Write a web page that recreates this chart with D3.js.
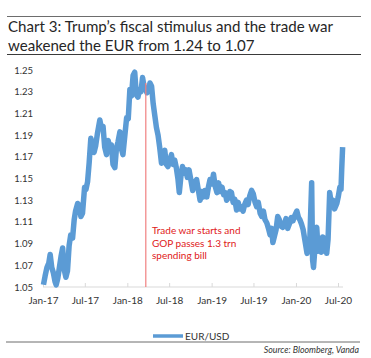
<!DOCTYPE html>
<html><head><meta charset="utf-8">
<script src="https://cdn.jsdelivr.net/npm/d3@7/dist/d3.min.js"></script>
<style>
body{margin:0;background:#fff;}
svg text{font-family:Lato,"Open Sans",sans-serif;}
</style></head>
<body><svg id="c" width="371" height="358"></svg>
<script>
const titleLines = ["Chart 3: Trump\u2019s fiscal stimulus and the trade war","weakened the EUR from 1.24 to 1.07"];
const seriesName = "EUR/USD";
const sourceText = "Source: Bloomberg, Vanda";
const annotationLines = ["Trade war starts and","GOP passes 1.3 trn","spending bill"];
const annotationDate = "2018-03-22";
const annotationTop = 1.238;
const yTicks = [1.05,1.07,1.09,1.11,1.13,1.15,1.17,1.19,1.21,1.23,1.25];
const xTickDates = ["2017-01-01","2017-07-01","2018-01-01","2018-07-01","2019-01-01","2019-07-01","2020-01-01","2020-07-01"];
const xTickLabels = ["Jan-17","Jul-17","Jan-18","Jul-18","Jan-19","Jul-19","Jan-20","Jul-20"];
const dates = ["2017-01-03","2017-01-10","2017-01-18","2017-01-26","2017-02-01","2017-02-08","2017-02-15","2017-02-22","2017-02-27","2017-03-06","2017-03-13","2017-03-20","2017-03-27","2017-04-03","2017-04-10","2017-04-17","2017-04-24","2017-05-01","2017-05-09","2017-05-16","2017-05-22","2017-05-31","2017-06-07","2017-06-14","2017-06-21","2017-06-30","2017-07-06","2017-07-13","2017-07-20","2017-07-27","2017-08-03","2017-08-10","2017-08-17","2017-08-25","2017-09-04","2017-09-11","2017-09-18","2017-09-25","2017-10-03","2017-10-10","2017-10-17","2017-10-24","2017-10-31","2017-11-08","2017-11-15","2017-11-22","2017-11-30","2017-12-07","2017-12-13","2017-12-20","2017-12-29","2018-01-05","2018-01-12","2018-01-19","2018-01-26","2018-02-02","2018-02-09","2018-02-16","2018-02-23","2018-03-01","2018-03-08","2018-03-15","2018-03-22","2018-03-27","2018-04-03","2018-04-09","2018-04-16","2018-04-23","2018-04-30","2018-05-07","2018-05-14","2018-05-21","2018-05-29","2018-06-05","2018-06-12","2018-06-19","2018-06-26","2018-07-03","2018-07-11","2018-07-18","2018-07-25","2018-08-01","2018-08-08","2018-08-14","2018-08-21","2018-08-28","2018-09-04","2018-09-11","2018-09-18","2018-09-25","2018-10-02","2018-10-11","2018-10-18","2018-10-28","2018-11-04","2018-11-12","2018-11-19","2018-11-26","2018-12-03","2018-12-11","2018-12-18","2018-12-25","2019-01-02","2019-01-09","2019-01-16","2019-01-24","2019-01-31","2019-02-07","2019-02-15","2019-02-22","2019-03-01","2019-03-07","2019-03-14","2019-03-21","2019-03-28","2019-04-04","2019-04-11","2019-04-19","2019-04-26","2019-05-03","2019-05-10","2019-05-17","2019-05-24","2019-06-01","2019-06-08","2019-06-15","2019-06-23","2019-06-30","2019-07-08","2019-07-15","2019-07-22","2019-07-30","2019-08-06","2019-08-13","2019-08-20","2019-08-28","2019-09-04","2019-09-11","2019-09-18","2019-09-23","2019-09-30","2019-10-07","2019-10-14","2019-10-21","2019-10-28","2019-11-05","2019-11-12","2019-11-19","2019-11-26","2019-12-05","2019-12-12","2019-12-19","2019-12-27","2020-01-05","2020-01-12","2020-01-18","2020-01-25","2020-02-01","2020-02-08","2020-02-18","2020-02-24","2020-03-01","2020-03-05","2020-03-09","2020-03-13","2020-03-17","2020-03-21","2020-03-27","2020-03-31","2020-04-06","2020-04-12","2020-04-19","2020-04-26","2020-05-03","2020-05-08","2020-05-13","2020-05-19","2020-05-26","2020-06-02","2020-06-09","2020-06-16","2020-06-26","2020-07-02","2020-07-09","2020-07-14","2020-07-17","2020-07-21"];
const eurusd = [1.052,1.060,1.068,1.072,1.080,1.068,1.063,1.055,1.052,1.058,1.068,1.078,1.086,1.066,1.059,1.065,1.088,1.098,1.095,1.112,1.120,1.127,1.125,1.115,1.118,1.142,1.140,1.147,1.165,1.187,1.182,1.174,1.180,1.192,1.204,1.196,1.198,1.179,1.172,1.185,1.179,1.181,1.163,1.160,1.178,1.184,1.193,1.177,1.172,1.187,1.206,1.205,1.232,1.226,1.245,1.248,1.227,1.225,1.232,1.230,1.243,1.234,1.232,1.229,1.231,1.238,1.235,1.219,1.208,1.197,1.190,1.179,1.164,1.172,1.176,1.163,1.161,1.166,1.172,1.163,1.167,1.160,1.150,1.137,1.152,1.161,1.155,1.158,1.151,1.158,1.150,1.139,1.146,1.149,1.140,1.130,1.138,1.133,1.139,1.133,1.142,1.149,1.145,1.154,1.143,1.137,1.146,1.138,1.142,1.135,1.137,1.130,1.132,1.138,1.137,1.128,1.131,1.121,1.128,1.122,1.124,1.120,1.126,1.130,1.126,1.134,1.139,1.136,1.128,1.124,1.128,1.118,1.115,1.120,1.112,1.109,1.104,1.098,1.104,1.091,1.097,1.103,1.115,1.112,1.106,1.105,1.108,1.113,1.104,1.109,1.114,1.111,1.116,1.120,1.114,1.112,1.108,1.103,1.094,1.081,1.087,1.093,1.120,1.146,1.075,1.068,1.080,1.102,1.105,1.083,1.095,1.082,1.096,1.083,1.095,1.081,1.094,1.137,1.127,1.130,1.122,1.127,1.133,1.142,1.140,1.158,1.179];

const parse = d3.timeParse("%Y-%m-%d");
const data = dates.map((d,i)=>({date:parse(d), v:eurusd[i]}));
const svg = d3.select("#c");
const blue = "#5B9BD5";

// frame rules
svg.append("line").attr("x1",7).attr("x2",361).attr("y1",16.5).attr("y2",16.5).attr("stroke","#6d6d6d").attr("stroke-width",1.2);
svg.append("line").attr("x1",7).attr("x2",361).attr("y1",54.5).attr("y2",54.5).attr("stroke","#3a3a3a").attr("stroke-width",1.2);
svg.append("line").attr("x1",6).attr("x2",360).attr("y1",342).attr("y2",342).attr("stroke","#6d6d6d").attr("stroke-width",1);

const title = svg.append("g");
titleLines.forEach((t,i)=>title.append("text").attr("x",8).attr("y",32+i*18.5).attr("font-size",15.1).attr("fill","#262626").text(t));

const x = d3.scaleTime().domain([parse(xTickDates[0]), parse(xTickDates[7])]).range([43,338]);
const y = d3.scaleLinear().domain([1.05,1.25]).range([287,70]);

// x axis
const xa = svg.append("g").attr("transform","translate(0,287)")
  .call(d3.axisBottom(x).tickValues(xTickDates.map(parse)).tickFormat((d,i)=>xTickLabels[i]).tickSize(-4).tickPadding(10));
xa.select(".domain").attr("d","M43,0H343").attr("stroke","#d9d9d9");
xa.selectAll(".tick line").attr("stroke","#d9d9d9");
xa.selectAll(".tick text").attr("font-size",10).attr("fill","#333");

// y axis
const ya = svg.append("g").attr("transform","translate(33,0)")
  .call(d3.axisLeft(y).tickValues(yTicks).tickFormat(d3.format(".2f")).tickSize(0).tickPadding(0));
ya.select(".domain").remove();
ya.selectAll(".tick text").attr("font-size",9.5).attr("fill","#333");

// series
svg.append("path").datum(data).attr("fill","none").attr("stroke",blue).attr("stroke-width",5.5).attr("stroke-linejoin","round")
  .attr("d", d3.line().x(d=>x(d.date)).y(d=>y(d.v)));

// annotation
const ax = x(parse(annotationDate));
svg.append("line").attr("x1",ax).attr("x2",ax).attr("y1",y(annotationTop)).attr("y2",y(1.05)).attr("stroke","#f08080").attr("stroke-width",1.2);
const ann = svg.append("g");
annotationLines.forEach((t,i)=>ann.append("text").attr("x",152).attr("y",234+i*12.5).attr("font-size",10).attr("fill","#e02020").text(t));

// legend
svg.append("line").attr("x1",153).attr("x2",183).attr("y1",336).attr("y2",336).attr("stroke",blue).attr("stroke-width",3.5);
svg.append("text").attr("x",185).attr("y",339.5).attr("font-size",10).attr("fill","#333").text(seriesName);

// source
svg.append("text").attr("x",359).attr("y",353).attr("text-anchor","end").attr("font-size",8.8).attr("font-style","italic").attr("fill","#333").text(sourceText);
</script></body></html>
